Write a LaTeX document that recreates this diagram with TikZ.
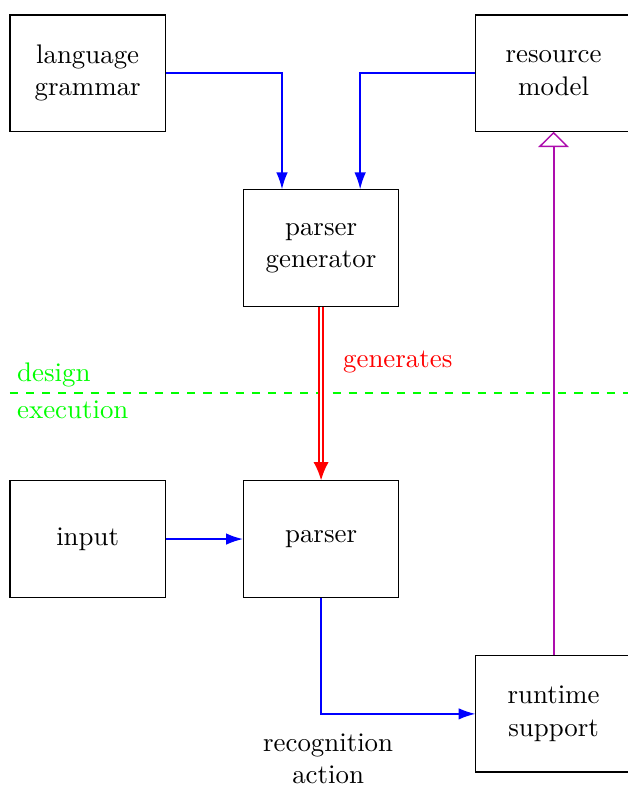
\documentclass[tikz,border=0pt]{standalone}
\usepackage{tikz}
\usetikzlibrary{calc}
\usetikzlibrary{positioning}
\usetikzlibrary{arrows.meta}
\definecolor{linkviolet}{rgb}{0.68,0.05,0.68}
\tikzset{
    % Every stage of the tool chain is a plain box
    stage/.style={draw, align=center, minimum width=2.03cm, minimum height=1.52cm},
%
    % Ordinary data flow between stages
    flow/.style={draw, color=blue, line width=0.55pt,
        -{Latex[length=2.2mm, width=1.5mm]}},
%
    % The generator produces the parser
    produces/.style={draw, color=red, line width=0.65pt, double,
        double distance=1pt, -{Latex[length=2.4mm, width=2mm]}},
%
    % Inheritance style link, open triangle at the target
    inherits/.style={draw, color=linkviolet, line width=0.7pt,
        -{Triangle[open, length=2mm, width=4mm, line width=0.55pt]}},
%
    % Border between the two phases
    phase line/.style={draw=green, line width=0.55pt, dashed},
    phase text/.style={text=green, anchor=west}}

\begin{document}
\begin{tikzpicture}

\useasboundingbox (0,0) rectangle (8.21,-10.29);

\node [stage] (grammar) at (1.146,-0.956) {language\\grammar};
\node [stage] (model)   at (7.238,-0.956) {resource\\model};
\node [stage] (pgen)    at (4.198,-3.242) {parser\\generator};
\node [stage] (input)   at (1.146,-7.048) {input};
\node [stage] (parser)  at (4.198,-7.048) {parser};
\node [stage] (runtime) at (7.238,-9.334) {runtime\\support};

% design time above, execution below
\draw [phase line] (0.13,-5.137) -- (8.3,-5.137);
\node [phase text] (design) at (0.1,-4.90) {design};
\node [phase text] (execution) at (0.1,-5.36) {execution};

\path [flow] (grammar.east) -| ($(pgen.north west)!.25!(pgen.north east)$);
\path [flow] (model.west) -| ($(pgen.north west)!.75!(pgen.north east)$);

\path [produces] (pgen.south) -- (parser.north)
    node [pos=0.32, right=1.6mm, text=red] (gen label) {generates};

\path [flow] (input.east) -- (parser.west);
\path [flow] (parser.south) |- (runtime.west);

\node [align=center] (action) at (4.29,-9.92) {recognition\\action};

\path [inherits] (runtime.north) -- (model.south);

\end{tikzpicture}
\end{document}
